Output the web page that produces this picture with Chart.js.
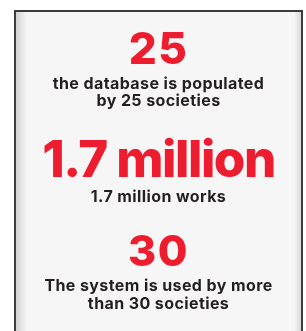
<!DOCTYPE html>
<html>
<head>
<meta charset="utf-8">
<script src="https://cdn.jsdelivr.net/npm/chart.js@4.4.1/dist/chart.umd.min.js"></script>
<style>
  html, body { margin: 0; padding: 0; background: #fff; }
  #wrap { width: 306px; height: 331px; }
</style>
</head>
<body>
<div id="wrap"><canvas id="stats"></canvas></div>
<script>
// headline figures, one per row
const figures = ['25', '1.7 million', '30'];
// caption lines under each figure
const captions = [
    ['the database is populated', 'by 25 societies'],
    ['1.7 million works'],
    ['The system is used by more', 'than 30 societies']
];

const RED = '#ed1c2e';
const INK = '#231f20';
const FONT = 'Inter, "Noto Sans", sans-serif';

const panel = {
    id: 'panel',
    beforeDraw(chart) {
        const { ctx, height } = chart;
        const l = 15, t = 11, r = 302;
        ctx.save();
        ctx.fillStyle = '#f6f6f6';
        ctx.fillRect(l, t, r - l, height - t + 5);

        // soft inner shading at the sides
        let g = ctx.createLinearGradient(l, 0, l + 12, 0);
        g.addColorStop(0, 'rgba(0,0,0,0.16)');
        g.addColorStop(1, 'rgba(0,0,0,0)');
        ctx.fillStyle = g;
        ctx.fillRect(l, t, 12, height);
        g = ctx.createLinearGradient(r, 0, r - 8, 0);
        g.addColorStop(0, 'rgba(0,0,0,0.14)');
        g.addColorStop(1, 'rgba(0,0,0,0)');
        ctx.fillStyle = g;
        ctx.fillRect(r - 8, t, 8, height);

        ctx.strokeStyle = '#3c3c3c';
        ctx.lineWidth = 2;
        ctx.beginPath();
        ctx.moveTo(l, height + 5);
        ctx.lineTo(l, t);
        ctx.lineTo(r, t);
        ctx.lineTo(r, height + 5);
        ctx.stroke();
        ctx.restore();
    }
};

const statText = {
    id: 'statText',
    afterDraw(chart, args, opts) {
        const { ctx, scales: { y }, chartArea } = chart;
        const cx = (chartArea.left + chartArea.right) / 2;
        ctx.save();
        ctx.textAlign = 'center';
        ctx.textBaseline = 'alphabetic';
        y.getLabels().forEach((label, i) => {
            const yc = y.getPixelForValue(i);
            const lines = captions[i];
            ctx.font = `800 ${opts.bigSizes[i]}px ${FONT}`;
            ctx.letterSpacing = opts.bigTracking[i] + 'px';
            const cap = ctx.measureText('H').actualBoundingBoxAscent;
            const groupH = cap + opts.gap + (lines.length - 1) * opts.lineHeight;
            const base = yc - groupH / 2 + cap;
            ctx.fillStyle = RED;
            ctx.fillText(label, cx, base);

            ctx.font = `bold ${opts.captionSize}px ${FONT}`;
            ctx.letterSpacing = opts.captionTracking + 'px';
            ctx.fillStyle = INK;
            lines.forEach((line, k) => {
                ctx.fillText(line, cx, base + opts.gap + k * opts.lineHeight);
            });
        });
        ctx.restore();
    }
};

new Chart(document.getElementById('stats'), {
    type: 'bar',
    plugins: [panel, statText],
    data: {
        labels: figures,
        datasets: [{ data: [] }]
    },
    options: {
        indexAxis: 'y',
        responsive: true,
        maintainAspectRatio: false,
        animation: false,
        layout: { padding: { top: 18, bottom: 8, left: 15, right: 4 } },
        scales: {
            x: { display: false },
            y: { display: false, offset: true }
        },
        plugins: {
            legend: { display: false },
            tooltip: { enabled: false },
            statText: {
                bigSizes: [44, 51, 43],
                bigTracking: [1.5, -1.5, 1.5],
                captionSize: 16,
                captionTracking: 0.4,
                gap: 25,
                lineHeight: 17.5
            }
        }
    }
});
</script>
</body>
</html>
